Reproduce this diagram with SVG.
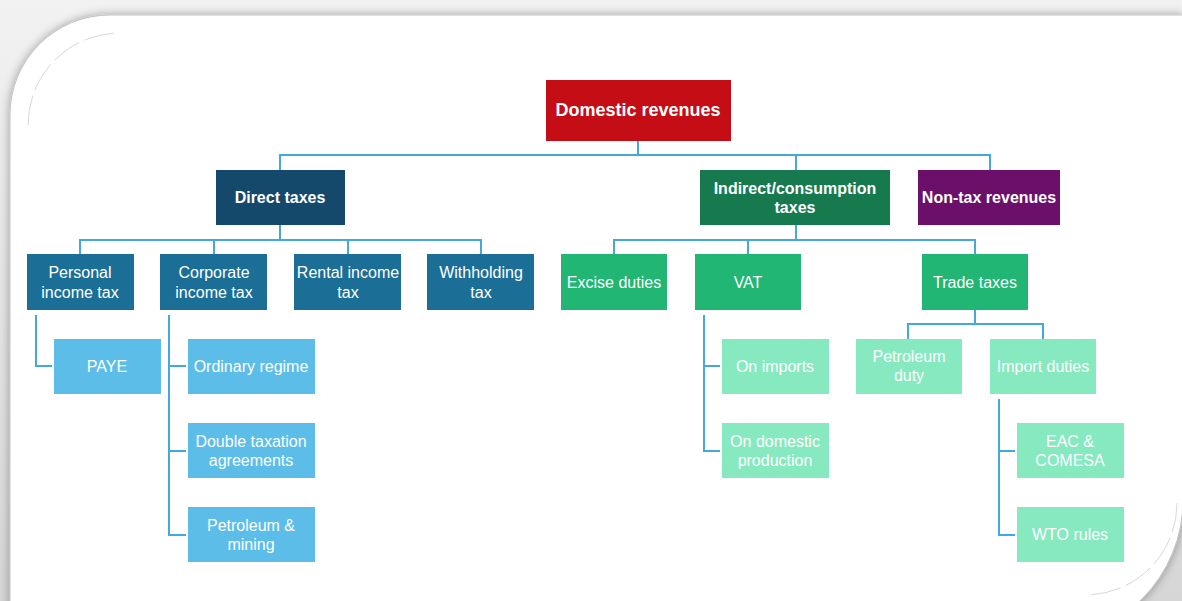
<svg xmlns="http://www.w3.org/2000/svg" width="1182" height="601" viewBox="0 0 1182 601">
<defs>
<linearGradient id="bgT" x1="0" y1="0" x2="0" y2="1"><stop offset="0" stop-color="#f2f2f2"/><stop offset="1" stop-color="#d6d6d6"/></linearGradient>
<filter id="sh" x="-5%" y="-5%" width="110%" height="110%"><feDropShadow dx="0" dy="0" stdDeviation="5" flood-color="#000" flood-opacity="0.35"/></filter>
<style>
.t{font-family:"Liberation Sans",Arial,sans-serif;fill:#fff;text-anchor:middle}
.b{font-weight:bold;font-size:16px}
.r{font-size:16px}
.c{fill:none;stroke:#45a8dc;stroke-width:2}
.l1{fill:#14496b}.g1{fill:#177a4f}.p1{fill:#6c0f6a}
.l2{fill:#1b6f97}.g2{fill:#21b673}
.l3{fill:#5cbde9}.g3{fill:#86e9c0}
</style>
</defs>
<rect x="0" y="0" width="1182" height="601" fill="url(#bgT)"/>
<path d="M10,115 A100,100 0 0 1 110,15 L1183,15 L1183,500 A140,140 0 0 1 1043,640 L10,640 Z" fill="#fff" stroke="#c4c4c4" stroke-width="1" filter="url(#sh)"/>
<path d="M28,125 A92,92 0 0 1 120,33" fill="none" stroke="#d8d8d8" stroke-width="1" stroke-dasharray="30 6"/>
<path d="M1177,503 A92,92 0 0 1 1085,595" fill="none" stroke="#d8d8d8" stroke-width="1" stroke-dasharray="30 6"/>

<g id="connectors">
<path class="c" d="M638,141 V155 M280,170 V155 H990 V170 M796,155 V170"/>
<path class="c" d="M280,225 V240 M80,254 V240 H481 V254 M214,240 V254 M348,240 V254"/>
<path class="c" d="M796,225 V240 M614,254 V240 H975 V254 M748,240 V254"/>
<path class="c" d="M975,310 V324 M908,339 V324 H1043 V339"/>
<path class="c" d="M36,315 V366 H52"/>
<path class="c" d="M169,315 V535 H186 M169,366 H186 M169,451 H186"/>
<path class="c" d="M704,315 V451 H720 M704,366 H720"/>
<path class="c" d="M999,399 V535 H1015 M999,451 H1015"/>
</g>

<g id="domestic"><rect x="546" y="80" width="185" height="61" fill="#c40d14"/><text class="t" x="638" y="116" font-weight="bold" font-size="18">Domestic revenues</text></g>

<g id="direct"><rect class="l1" x="216" y="170" width="129" height="55"/><text class="t b" x="280" y="203">Direct taxes</text></g>
<g id="indirect"><rect class="g1" x="700" y="170" width="190" height="55"/><text class="t b" x="795" y="194">Indirect/consumption</text><text class="t b" x="795" y="213">taxes</text></g>
<g id="nontax"><rect class="p1" x="918" y="170" width="142" height="55"/><text class="t b" x="989" y="203">Non-tax revenues</text></g>

<g id="personal"><rect class="l2" x="27" y="254" width="107" height="56"/><text class="t r" x="80" y="278">Personal</text><text class="t r" x="80" y="298">income tax</text></g>
<g id="corporate"><rect class="l2" x="160" y="254" width="107" height="56"/><text class="t r" x="214" y="278">Corporate</text><text class="t r" x="214" y="298">income tax</text></g>
<g id="rental"><rect class="l2" x="294" y="254" width="107" height="56"/><text class="t r" x="348" y="278">Rental income</text><text class="t r" x="348" y="298">tax</text></g>
<g id="withholding"><rect class="l2" x="427" y="254" width="107" height="56"/><text class="t r" x="481" y="278">Withholding</text><text class="t r" x="481" y="298">tax</text></g>

<g id="excise"><rect class="g2" x="561" y="254" width="106" height="56"/><text class="t r" x="614" y="288">Excise duties</text></g>
<g id="vat"><rect class="g2" x="695" y="254" width="106" height="56"/><text class="t r" x="748" y="288">VAT</text></g>
<g id="trade"><rect class="g2" x="922" y="254" width="106" height="56"/><text class="t r" x="975" y="288">Trade taxes</text></g>

<g id="paye"><rect class="l3" x="54" y="339" width="107" height="55"/><text class="t r" x="107" y="372">PAYE</text></g>
<g id="ordinary"><rect class="l3" x="188" y="339" width="127" height="55"/><text class="t r" x="251" y="372">Ordinary regime</text></g>
<g id="double"><rect class="l3" x="188" y="423" width="127" height="55"/><text class="t r" x="251" y="447">Double taxation</text><text class="t r" x="251" y="466">agreements</text></g>
<g id="petromining"><rect class="l3" x="188" y="507" width="127" height="55"/><text class="t r" x="251" y="531">Petroleum &amp;</text><text class="t r" x="251" y="550">mining</text></g>

<g id="onimports"><rect class="g3" x="722" y="339" width="107" height="55"/><text class="t r" x="775" y="372">On imports</text></g>
<g id="ondomestic"><rect class="g3" x="722" y="423" width="107" height="55"/><text class="t r" x="775" y="447">On domestic</text><text class="t r" x="775" y="466">production</text></g>

<g id="petroduty"><rect class="g3" x="856" y="339" width="106" height="55"/><text class="t r" x="909" y="362">Petroleum</text><text class="t r" x="909" y="381">duty</text></g>
<g id="importduties"><rect class="g3" x="990" y="339" width="106" height="55"/><text class="t r" x="1043" y="372">Import duties</text></g>
<g id="eac"><rect class="g3" x="1017" y="423" width="107" height="55"/><text class="t r" x="1070" y="447">EAC &amp;</text><text class="t r" x="1070" y="466">COMESA</text></g>
<g id="wto"><rect class="g3" x="1017" y="507" width="107" height="55"/><text class="t r" x="1070" y="540">WTO rules</text></g>
</svg>
